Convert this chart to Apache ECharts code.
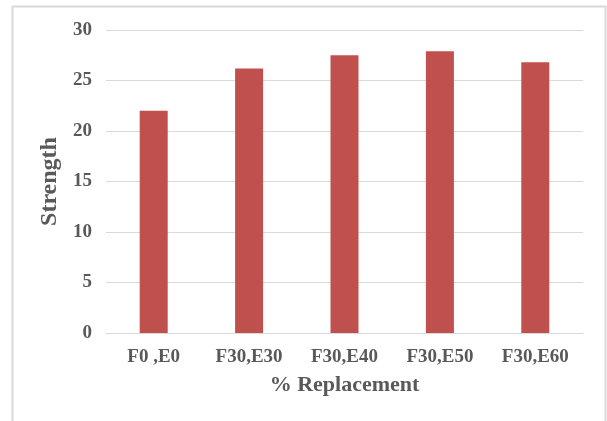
<!DOCTYPE html>
<html><head><meta charset="utf-8">
<script src="https://cdn.jsdelivr.net/npm/echarts@6/dist/echarts.min.js"></script>
<style>html,body{margin:0;padding:0;background:#fff}#c{width:607px;height:421px}</style>
</head><body><div id="c"></div>
<script>
const categories = ['F0 ,E0', 'F30,E30', 'F30,E40', 'F30,E50', 'F30,E60'];
const strength = [22.0, 26.2, 27.5, 27.9, 26.8];
const yTicks = { min: 0, max: 30, interval: 5 };

const chart = echarts.init(document.getElementById('c'));
const font = '"Liberation Serif","Times New Roman",serif';
chart.setOption({
  animation: false,
  backgroundColor: '#fff',
  graphic: [{
    type: 'rect', shape: { x: 12.5, y: 6.5, width: 593, height: 420 },
    style: { fill: 'none', stroke: '#D9D9D9', lineWidth: 2 }, silent: true
  }],
  grid: { left: 106, right: 24, top: 30, bottom: 88 },
  xAxis: {
    type: 'category', data: categories,
    axisLine: { lineStyle: { color: '#D9D9D9', width: 1 } },
    axisTick: { show: false },
    axisLabel: { color: '#595959', fontFamily: font, fontWeight: 'bold', fontSize: 19, margin: 15 },
    name: '% Replacement', nameLocation: 'middle', nameGap: 41,
    nameTextStyle: { color: '#595959', fontFamily: font, fontWeight: 'bold', fontSize: 22 }
  },
  yAxis: {
    type: 'value', min: yTicks.min, max: yTicks.max, interval: yTicks.interval,
    axisLine: { show: false }, axisTick: { show: false },
    splitLine: { lineStyle: { color: '#D9D9D9', width: 1 } },
    axisLabel: { color: '#595959', fontFamily: font, fontWeight: 'bold', fontSize: 19, margin: 14 },
    name: 'Strength', nameLocation: 'middle', nameGap: 43,
    nameTextStyle: { color: '#595959', fontFamily: font, fontWeight: 'bold', fontSize: 24 }
  },
  series: [{
    type: 'bar', data: strength, barWidth: 28,
    itemStyle: { color: '#C0504D' }
  }]
});
</script></body></html>
